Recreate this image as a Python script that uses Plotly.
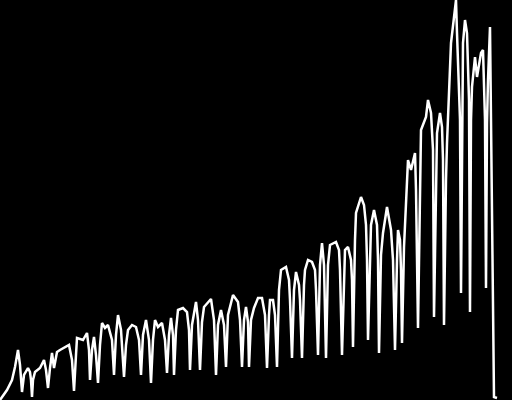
import plotly.graph_objects as go

# time index (arbitrary units) and series values (pixel-height units)
day = [0, 7, 12, 15, 18, 20, 22, 24, 28, 30, 31, 32, 33, 35, 40, 44, 46, 48, 50, 52,
       54, 57, 60, 65, 69, 72, 74, 76, 77, 83, 87, 89, 90, 92, 94, 96, 98, 100, 102, 105,
       108, 112, 114, 116, 118, 121, 122, 124, 126, 128, 132, 136, 139, 141, 143, 146, 149, 151, 153, 155,
       158, 162, 165, 167, 169, 171, 173, 174, 176, 178, 183, 187, 189, 190, 192, 196, 198, 200, 202, 204,
       211, 214, 216, 218, 221, 224, 226, 228, 233, 238, 240, 242, 244, 246, 248, 249, 251, 254, 258, 262,
       265, 267, 269, 270, 273, 275, 277, 279, 281, 286, 289, 290, 292, 294, 296, 299, 300, 302, 304, 305,
       308, 312, 315, 316, 318, 320, 322, 324, 326, 328, 330, 336, 339, 340, 342, 344, 345, 348, 351, 352,
       353, 355, 356, 361, 364, 366, 367, 368, 370, 371, 374, 377, 378, 379, 381, 383, 387, 391, 393, 395,
       397, 398, 400, 401, 402, 403, 404, 408, 411, 415, 416, 418, 420, 421, 426, 428, 431, 433, 434, 436,
       437, 440, 442, 443, 444, 446, 447, 451, 452, 456, 457, 458, 460, 461, 462, 463, 465, 467, 469, 470,
       471, 472, 475, 477, 481, 483, 485, 486, 487, 488, 490, 491, 492, 494, 497]

pix_y = [400, 390, 380, 367, 350, 365, 392, 375, 368, 372, 380, 397, 380, 372, 368, 360, 370, 388, 368, 353,
         368, 352, 350, 347, 345, 360, 391, 355, 338, 340, 333, 350, 380, 350, 337, 355, 383, 345, 323, 328,
         325, 340, 375, 335, 315, 330, 345, 377, 345, 330, 325, 327, 340, 375, 335, 320, 340, 383, 340, 320,
         327, 323, 340, 373, 335, 318, 335, 375, 330, 310, 308, 312, 330, 370, 325, 302, 320, 370, 322, 307,
         299, 320, 375, 325, 310, 325, 367, 315, 295, 302, 320, 367, 320, 307, 322, 367, 320, 308, 298, 298,
         315, 368, 315, 300, 300, 315, 367, 290, 270, 267, 280, 300, 358, 290, 272, 285, 300, 358, 285, 270,
         260, 262, 270, 290, 355, 265, 243, 265, 358, 265, 245, 242, 250, 270, 355, 270, 250, 247, 260, 280,
         347, 240, 213, 197, 205, 225, 260, 340, 250, 225, 210, 225, 260, 353, 255, 233, 207, 230, 260, 350,
         260, 230, 240, 270, 343, 270, 247, 160, 170, 153, 190, 328, 170, 130, 117, 100, 113, 150, 317, 160,
         133, 113, 127, 160, 325, 180, 143, 43, 33, 0, 33, 60, 120, 293, 100, 43, 20, 33, 100, 312,
         120, 87, 57, 77, 53, 50, 120, 288, 123, 80, 27, 127, 270, 397, 398]

value = [400 - v for v in pix_y]

fig = go.Figure(go.Scatter(x=day, y=value, mode="lines",
                           line=dict(color="white", width=2.5)))
fig.update_layout(width=512, height=400, autosize=False,
                  margin=dict(l=0, r=0, t=0, b=0),
                  paper_bgcolor="black", plot_bgcolor="black",
                  showlegend=False)
fig.update_xaxes(visible=False, range=[0, 512])
fig.update_yaxes(visible=False, range=[0, 400])
fig.write_html("out.html", config={"displayModeBar": False})
